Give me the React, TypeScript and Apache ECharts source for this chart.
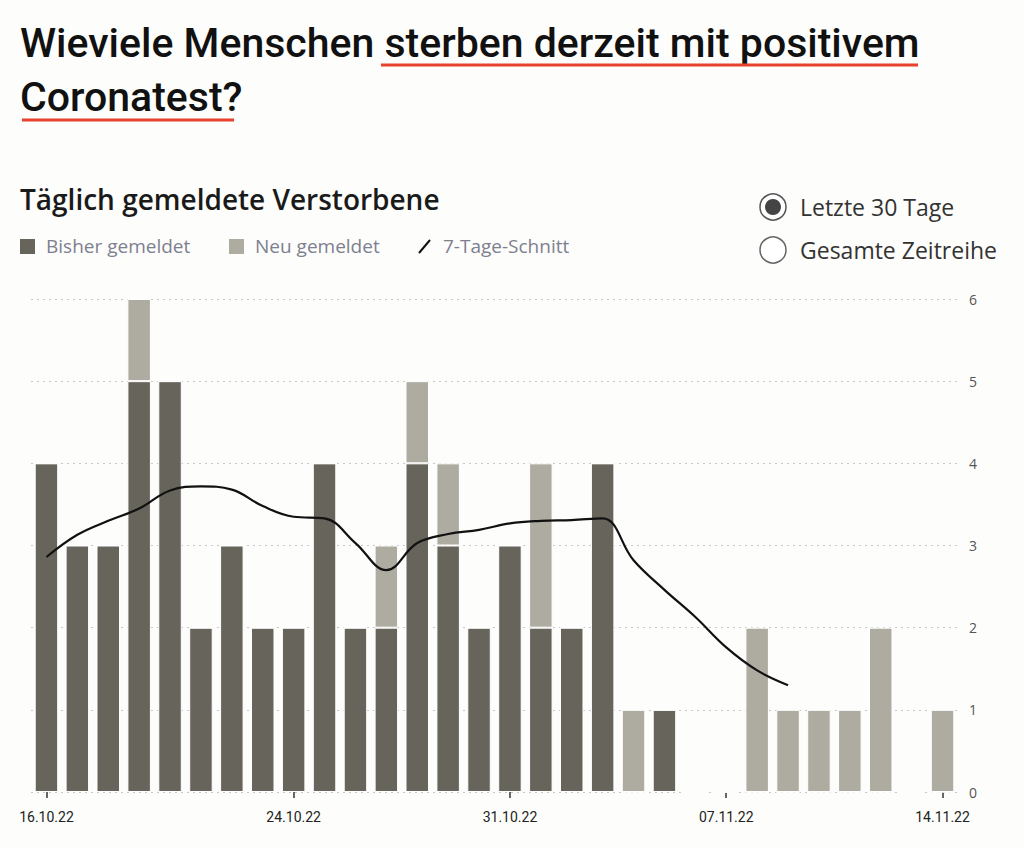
import React, { useEffect, useRef } from "react";
import * as echarts from "echarts";

const categories = [
  "16.10.22", "17.10.22", "18.10.22", "19.10.22", "20.10.22", "21.10.22", "22.10.22", "23.10.22",
  "24.10.22", "25.10.22", "26.10.22", "27.10.22", "28.10.22", "29.10.22", "30.10.22", "31.10.22",
  "01.11.22", "02.11.22", "03.11.22", "04.11.22", "05.11.22", "06.11.22", "07.11.22", "08.11.22",
  "09.11.22", "10.11.22", "11.11.22", "12.11.22", "13.11.22", "14.11.22",
];
const bisherGemeldet = [4, 3, 3, 5, 5, 2, 3, 2, 2, 4, 2, 2, 4, 3, 2, 3, 2, 2, 4, 0, 1, 0, 0, 0, 0, 0, 0, 0, 0, 0];
const neuGemeldet = [0, 0, 0, 1, 0, 0, 0, 0, 0, 0, 0, 1, 1, 1, 0, 0, 2, 0, 0, 1, 0, 0, 0, 2, 1, 1, 1, 2, 0, 1];
const siebenTageSchnitt = [
  2.86, 3.13, 3.3, 3.45, 3.67, 3.72, 3.68, 3.48, 3.35, 3.33, 3.03, 2.7, 3.03, 3.14, 3.19,
  3.27, 3.3, 3.31, 3.33, 2.82, 2.46, 2.13, 1.76, 1.48, 1.3,
];
const labelledTicks = [0, 8, 15, 22, 29];
const yTicks = [0, 1, 2, 3, 4, 5, 6];

const DARK = "#67645c";
const LIGHT = "#aeaba0";
const BG = "#fdfdfb";
const FONT = "Roboto, 'Noto Sans', sans-serif";
const FONT2 = "'Open Sans', 'Noto Sans', sans-serif";

export default function App() {
  const ref = useRef<HTMLDivElement>(null);
  useEffect(() => {
    document.body.style.margin = "0";
    document.body.style.background = BG;
    const chart = echarts.init(ref.current!, null, { renderer: "svg" });
    const showIdx = (i: number) => labelledTicks.includes(i);
    const txt = (text: string, x: number, y: number, font: string, fill: string) => ({
      type: "text",
      x,
      y,
      style: { text, font, fill, align: "left", verticalAlign: "middle" },
    });
    chart.setOption({
      animation: false,
      backgroundColor: BG,
      textStyle: { fontFamily: FONT },
      grid: { left: 31, right: 66, top: 299, bottom: 55 },
      xAxis: {
        type: "category",
        data: categories,
        axisLine: { show: false },
        axisTick: { show: true, interval: showIdx, alignWithLabel: true, length: 6, lineStyle: { color: "#333", width: 1.5 } },
        axisLabel: { interval: showIdx, color: "#222", fontSize: 14, margin: 18, fontFamily: FONT },
      },
      yAxis: {
        type: "value",
        position: "right",
        min: yTicks[0],
        max: yTicks[yTicks.length - 1],
        interval: 1,
        axisLine: { show: false },
        axisTick: { show: false },
        axisLabel: { color: "#555", fontSize: 14, margin: 11, fontFamily: FONT2 },
        splitLine: { show: true, lineStyle: { color: "#c8c8c8", type: [2, 4], width: 1 } },
      },
      series: [
        {
          name: "Bisher gemeldet",
          type: "bar",
          stack: "total",
          data: bisherGemeldet,
          barWidth: "76%",
          itemStyle: { color: DARK, borderColor: "#ffffff", borderWidth: 1 },
        },
        {
          name: "Neu gemeldet",
          type: "bar",
          stack: "total",
          data: neuGemeldet,
          barWidth: "76%",
          itemStyle: { color: LIGHT, borderColor: "#ffffff", borderWidth: 1 },
        },
        {
          name: "7-Tage-Schnitt",
          type: "line",
          data: siebenTageSchnitt,
          smooth: 0.4,
          showSymbol: false,
          symbol: "none",
          lineStyle: { color: "#111", width: 2.2 },
          z: 5,
        },
      ],
      graphic: [
        {
          type: "text", left: 20, top: 22,
          style: { text: "Wieviele Menschen sterben derzeit mit positivem", font: `500 41px ${FONT}`, fill: "#111" },
        },
        {
          type: "text", left: 20, top: 76,
          style: { text: "Coronatest?", font: `500 41px ${FONT}`, fill: "#111" },
        },
        { type: "line", shape: { x1: 381, y1: 65, x2: 918, y2: 65 }, style: { stroke: "#e8412c", lineWidth: 3 } },
        { type: "line", shape: { x1: 22, y1: 120, x2: 234, y2: 120 }, style: { stroke: "#e8412c", lineWidth: 3 } },
        txt("Täglich gemeldete Verstorbene", 20, 199, `600 28px ${FONT2}`, "#1a1a1a"),
        { type: "rect", shape: { x: 20, y: 239, width: 15, height: 15 }, style: { fill: DARK } },
        txt("Bisher gemeldet", 46, 246, `19px ${FONT2}`, "#7d8090"),
        { type: "rect", shape: { x: 229, y: 239, width: 15, height: 15 }, style: { fill: LIGHT } },
        txt("Neu gemeldet", 255, 246, `19px ${FONT2}`, "#7d8090"),
        { type: "line", shape: { x1: 419, y1: 253, x2: 430, y2: 240 }, style: { stroke: "#111", lineWidth: 2 } },
        txt("7-Tage-Schnitt", 443, 246, `19px ${FONT2}`, "#7d8090"),
        { type: "circle", shape: { cx: 773, cy: 207, r: 13 }, style: { fill: "#fff", stroke: "#555", lineWidth: 1.5 } },
        { type: "circle", shape: { cx: 773, cy: 207, r: 8 }, style: { fill: "#444" } },
        txt("Letzte 30 Tage", 800, 207, `23px ${FONT2}`, "#333"),
        { type: "circle", shape: { cx: 773, cy: 250, r: 13 }, style: { fill: "#fff", stroke: "#666", lineWidth: 1.5 } },
        txt("Gesamte Zeitreihe", 800, 250, `23px ${FONT2}`, "#333"),
      ],
    });
    return () => chart.dispose();
  }, []);
  return <div ref={ref} style={{ width: 1024, height: 847 }} />;
}
